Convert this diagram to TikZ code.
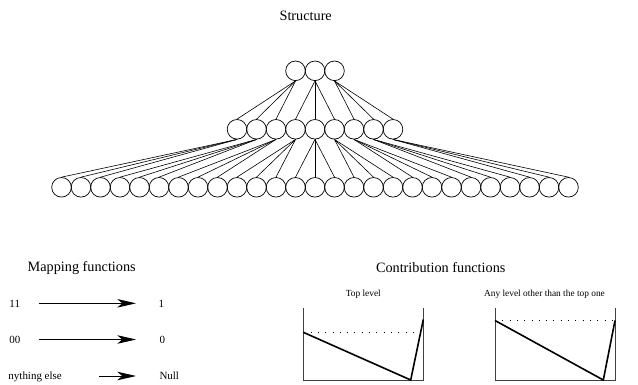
\documentclass[tikz,border=0pt]{standalone}
\usepackage{fontspec}
\setmainfont{Liberation Serif}
\usetikzlibrary{arrows.meta}
\begin{document}
\begin{tikzpicture}[x=1bp,y=-1bp,
  circ/.style={circle,draw,minimum size=19.6bp,inner sep=0pt,line width=0.7bp},
  link/.style={line width=0.6bp},
  title/.style={font=\fontsize{14.3}{16}\selectfont,anchor=base,inner sep=0pt},
  lab/.style={font=\fontsize{11}{13}\selectfont,anchor=base west,inner sep=0pt},
  small/.style={font=\fontsize{9.4}{11}\selectfont,anchor=base,inner sep=0pt},
  maparrow/.style={line width=0.8bp,-{Stealth[length=18.7bp,width=8.5bp,inset=5bp]}},
  frame/.style={line width=0.9bp,black!75},
  curve/.style={line width=1.6bp,line join=miter},
  level/.style={line width=0.8bp,dash pattern=on 0.8bp off 6.5bp}]
\useasboundingbox (0,0) rectangle (638,384);

% tree
\foreach \i in {1,2,3} \node[circ] (t\i) at ({315+(\i-2)*19.5},70.8) {};
\foreach \i in {1,...,9} \node[circ] (m\i) at ({315+(\i-5)*19.5},129.3) {};
\foreach \i in {1,...,27} \node[circ] (b\i) at ({315+(\i-14)*19.5},187.3) {};
\foreach \c in {1,...,9} {
  \pgfmathtruncatemacro\p{(\c+2)/3}
  \draw[link] (t\p.south) -- (m\c.north);
}
\foreach \c in {1,...,27} {
  \pgfmathtruncatemacro\p{(\c+2)/3}
  \draw[link] (m\p.south) -- (b\c.north);
}
\node[title] (st) at (305.7,20.7) {Structure};

% mapping functions
\node[title] (mf) at (81.7,271.7) {Mapping functions};
\node[lab] (a11) at (9.3,307.3) {11};
\node[lab] (a00) at (9.3,343.3) {00};
\node[lab] (aelse) at (8.3,379.6) {nything else};
\node[lab] (r1) at (158.5,307.3) {1};
\node[lab] (r0) at (159.3,343.3) {0};
\node[lab] (rnull) at (159.3,379.6) {Null};
\coordinate (s1) at (39.3,303.3);
\coordinate (e1) at (136,303.3);
\coordinate (s2) at (39.3,339.5);
\coordinate (e2) at (136,339.5);
\coordinate (s3) at (99.3,376);
\coordinate (e3) at (136,376);
\draw[maparrow] (s1) -- (e1);
\draw[maparrow] (s2) -- (e2);
\draw[maparrow] (s3) -- (e3);

% contribution functions
\node[title] (cf) at (440.7,272.3) {Contribution functions};
\node[small] (tl) at (363.3,296.7) {Top level};
\node[small] (al) at (544.5,296.7) {Any level other than the top one};

\draw[frame] (303.3,308.3) -- (303.3,380) -- (423.3,380) -- (423.3,308.3);
\draw[level] (303.3,332.3) -- (423.3,332.3);
\draw[curve] (303.3,332.3) -- (410.7,380) -- (423.3,319.5);

\draw[frame] (495,308.3) -- (495,380) -- (615,380) -- (615,308.3);
\draw[level] (495,320.5) -- (615,320.5);
\draw[curve] (495,320.5) -- (603.3,380) -- (615,320.5);
\end{tikzpicture}
\end{document}
